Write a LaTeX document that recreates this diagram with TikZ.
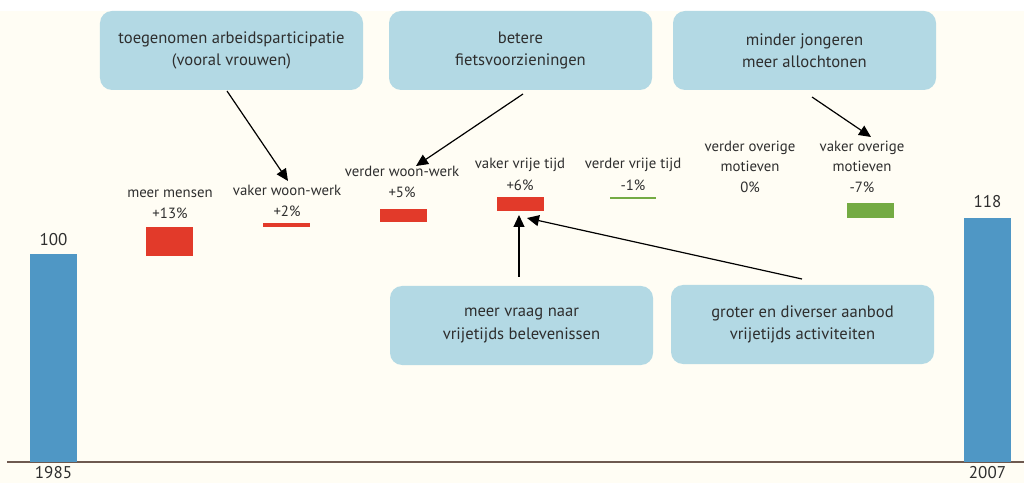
\documentclass[tikz,border=0pt]{standalone}
\usepackage{fontspec}
\setmainfont{PT Sans}
\usetikzlibrary{arrows.meta,calc}
\definecolor{paper}{HTML}{FFFDF4}
\definecolor{boxblue}{HTML}{B3D9E4}
\definecolor{barblue}{HTML}{4F97C5}
\definecolor{barred}{HTML}{E23A2A}
\definecolor{bargreen}{HTML}{74AB43}
\definecolor{ink}{HTML}{2E2E2E}
\definecolor{axis}{HTML}{6E5A50}
\begin{document}
\begin{tikzpicture}[x=1bp,y=-1bp,
  callout/.style={fill=boxblue, rounded corners=12bp, minimum width=263bp, minimum height=79bp,
    inner sep=0pt, outer sep=0pt, align=center, text=ink, font=\fontsize{16.6bp}{22.5bp}\selectfont},
  lbl/.style={text=ink, font=\fontsize{14.8bp}{20bp}\selectfont, anchor=base, inner sep=1pt},
  total/.style={text=ink, font=\fontsize{17bp}{20bp}\selectfont, anchor=base, inner sep=0pt},
  bar/.style={inner sep=0pt, outer sep=0pt, anchor=north west},
  arr/.style={draw=black, line width=1.2bp, -{Triangle[length=12bp,width=11bp]}}]
% canvas
\useasboundingbox (0,0) rectangle (1024,483);
\fill[white] (0,0) rectangle (1024,11);
\fill[paper] (0,11) rectangle (1024,483);

% axis
\coordinate (axL) at (7,462);
\coordinate (axR) at (1024,462);
\draw[axis, line width=1.2bp] (axL) -- (axR);

% totals
\node[bar, fill=barblue, minimum width=47bp, minimum height=208bp] (b85) at (30,254) {};
\node[bar, fill=barblue, minimum width=47bp, minimum height=244bp] (b07) at (964,218) {};
\node[total] (v85) at (53.5,246) {100};
\node[total] (v07) at (987.5,208) {118};
\node[total] (y85) at (53.5,478.5) {1985};
\node[total] (y07) at (987.5,478.5) {2007};

% components
\node[lbl] (lmm) at (170,198) {meer mensen};
\node[lbl] (pmm) at (170,219) {+13\%};
\node[bar, fill=barred, minimum width=47bp, minimum height=29bp] (bmm) at (146,227) {};

\node[lbl] (lvw) at (287,196) {vaker woon-werk};
\node[lbl] (pvw) at (287,217) {+2\%};
\node[bar, fill=barred, minimum width=47bp, minimum height=4bp] (bvw) at (263,223) {};

\node[lbl] (ldw) at (402,177) {verder woon-werk};
\node[lbl] (pdw) at (402,198) {+5\%};
\node[bar, fill=barred, minimum width=47bp, minimum height=13bp] (bdw) at (380,209) {};

\node[lbl] (lvv) at (520,169) {vaker vrije tijd};
\node[lbl] (pvv) at (520,191) {+6\%};
\node[bar, fill=barred, minimum width=47bp, minimum height=14bp] (bvv) at (497,197) {};

\node[lbl] (ldv) at (633,169) {verder vrije tijd};
\node[lbl] (pdv) at (633,191) {-1\%};
\node[bar, fill=bargreen, minimum width=46bp, minimum height=2bp] (bdv) at (610,197.5) {};

\node[lbl] (ldo1) at (750,152) {verder overige};
\node[lbl] (ldo2) at (750,172) {motieven};
\node[lbl] (pdo) at (750,193) {0\%};

\node[lbl] (lvo1) at (862,152) {vaker overige};
\node[lbl] (lvo2) at (862,172) {motieven};
\node[lbl] (pvo) at (862,193) {-7\%};
\node[bar, fill=bargreen, minimum width=47bp, minimum height=15bp] (bvo) at (847,203) {};

% explanatory callouts
\node[callout] (c1) at (231.5,50.5) {toegenomen arbeidsparticipatie\\(vooral vrouwen)};
\node[callout] (c2) at (520.5,50.5) {betere\\fietsvoorzieningen};
\node[callout] (c3) at (804.5,50.5) {minder jongeren\\meer allochtonen};
\node[callout] (c4) at (521.5,325.5) {meer vraag naar\\vrijetijds belevenissen};
\node[callout] (c5) at (802.5,324.5) {groter en diverser aanbod\\vrijetijds activiteiten};

% arrows
\coordinate (t1) at (288,181);
\coordinate (t2) at (416,166);
\coordinate (t3) at (871,137);
\coordinate (t4) at (519,215);
\coordinate (t5) at (527,218);
\draw[arr] ($(c1.south)+(-4.5,1)$) -- (t1);
\draw[arr] ($(c2.south)+(2.5,4)$) -- (t2);
\draw[arr] ($(c3.south)+(7.5,7)$) -- (t3);
\draw[arr] ($(c4.north)+(-2.5,-9)$) -- (t4);
\draw[arr] ($(c5.north)+(-0.5,-6)$) -- (t5);
\end{tikzpicture}
\end{document}
